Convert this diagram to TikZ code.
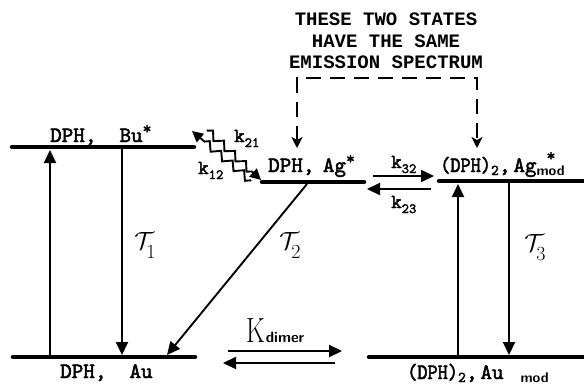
\documentclass[tikz,border=0pt]{standalone}
\usepackage{fontspec}
\newfontfamily\hdrfont{Liberation Mono}
\newfontfamily\lblfont{lmmono10-regular.otf}[FakeBold=2.2]
\usetikzlibrary{arrows.meta,decorations.pathmorphing}
\newcommand\ksub[1]{{\fontsize{20}{20}\selectfont k}\raisebox{-5pt}{\fontsize{14}{14}\selectfont #1}}
\newcommand\tausub[1]{{\fontsize{41}{41}\selectfont$\mathcal{T}$}\kern-8pt\raisebox{-9pt}{\fontsize{20}{20}\selectfont #1}}
\newcommand\modsub{\raisebox{-3pt}{\sffamily\bfseries\fontsize{14}{14}\selectfont mod}}
\newcommand\twosub{\raisebox{-3pt}{\fontsize{15}{15}\selectfont 2}}
\newcommand\lblstar{\raisebox{8pt}{\fontsize{17}{17}\selectfont*}}
\begin{document}
\begin{tikzpicture}[x=1pt,y=-1pt,
  level/.style={line width=4.5pt, line cap=round},
  trans/.style={line width=1.9pt, -{Triangle[length=13pt,width=12pt]}},
  rate/.style={line width=2.2pt, -{Triangle[length=13pt,width=12pt]}},
  wavy/.style={line width=1.9pt, decorate,
     decoration={zigzag, segment length=15pt, amplitude=3.75pt, pre length=1pt, post length=10pt},
     -{Triangle[length=11pt,width=11pt]}},
  dashline/.style={line width=2pt, dash pattern=on 15pt off 9pt,
     {Stealth[length=11pt,width=11pt,inset=3pt]}-{Stealth[length=11pt,width=11pt,inset=3pt]}},
  lbl/.style={font=\lblfont\fontsize{22}{22}\selectfont, inner sep=0pt, anchor=base west},
  hdr/.style={font=\hdrfont\bfseries\fontsize{19}{19}\selectfont, inner sep=0pt, anchor=base},
  klbl/.style={font=\lblfont, inner sep=0pt, anchor=base west},
  taulbl/.style={inner sep=0pt, anchor=center}
]
\useasboundingbox (0,0) rectangle (584,386);

% header
\node[hdr] (h1) at (386,25) {THESE TWO STATES};
\node[hdr] (h2) at (386,47) {HAVE THE SAME};
\node[hdr] (h3) at (386,68) {EMISSION SPECTRUM};

% level endpoints
\coordinate (BuL) at (12,147);  \coordinate (BuR) at (194,147);
\coordinate (AgL) at (262,182); \coordinate (AgR) at (364,182);
\coordinate (AmL) at (439,181); \coordinate (AmR) at (590,181);
\coordinate (AuL) at (13,357);  \coordinate (AuR) at (195,357);
\coordinate (AumL) at (369,357);\coordinate (AumR) at (590,357);

\draw[level] (BuL) -- (BuR);
\draw[level] (AgL) -- (AgR);
\draw[level] (AmL) -- (AmR);
\draw[level] (AuL) -- (AuR);
\draw[level] (AumL) -- (AumR);

% level labels
\node[lbl] (lBu) at (50,142) {DPH,\ \ Bu\lblstar};
\node[lbl] (lAg) at (268,172) {DPH,\ \kern-3pt Ag\lblstar};
\node[lbl] (lAm) at (440,172) {\scalebox{0.88}[1]{(DPH)}\twosub,\kern3pt Ag\rlap{\raisebox{11pt}{\fontsize{17}{17}\selectfont\kern10pt*}}\modsub};
\node[lbl] (lAu) at (60,378) {DPH,\ \ Au};
\node[lbl] (lAum) at (407,379) {\scalebox{0.88}[1]{(DPH)}\twosub,\kern3pt Au\kern17pt\modsub};

% transitions
\coordinate (u1s) at (50,355);  \coordinate (u1e) at (50,150);
\coordinate (d1s) at (122,149); \coordinate (d1e) at (122,355);
\coordinate (d2s) at (307,184); \coordinate (d2e) at (167,355);
\coordinate (u3s) at (458,355); \coordinate (u3e) at (458,184);
\coordinate (d3s) at (509,183); \coordinate (d3e) at (509,355);
\draw[trans] (u1s) -- (u1e);
\draw[trans] (d1s) -- (d1e);
\draw[trans] (d2s) -- (d2e);
\draw[trans] (u3s) -- (u3e);
\draw[trans] (d3s) -- (d3e);

\node[taulbl] (t1) at (145,245) {\tausub{1}};
\node[taulbl] (t2) at (290,245) {\tausub{2}};
\node[taulbl] (t3) at (535,248) {\tausub{3}};

% k32 / k23
\coordinate (k32s) at (373,176); \coordinate (k32e) at (434,176);
\coordinate (k23s) at (431,189); \coordinate (k23e) at (367,189);
\draw[rate] (k32s) -- (k32e);
\draw[rate] (k23s) -- (k23e);
\node[klbl] (lk32) at (391,168) {\ksub{32}};
\node[klbl] (lk23) at (391,208) {\ksub{23}};

% wavy k12 / k21
\coordinate (wa1) at (207,130); \coordinate (wa2) at (261,180);
\coordinate (wb1) at (251,181); \coordinate (wb2) at (192,131);
\draw[wavy] (wa1) -- (wa2);
\draw[wavy] (wb1) -- (wb2);
\node[klbl] (lk21) at (234,142) {\ksub{21}};
\node[klbl] (lk12) at (198,174) {\ksub{12}};

% K dimer
\coordinate (kd1s) at (228,351); \coordinate (kd1e) at (342,351);
\coordinate (kd2s) at (335,363); \coordinate (kd2e) at (223,363);
\draw[rate] (kd1s) -- (kd1e);
\draw[rate] (kd2s) -- (kd2e);
\node[inner sep=0pt, anchor=base west] (lKd) at (246,342)
  {{\fontsize{35}{35}\selectfont\scalebox{0.74}[1]{K}}\kern1pt{\sffamily\bfseries\fontsize{15}{15}\selectfont dimer}};

% dashed bracket
\coordinate (bl) at (297,148); \coordinate (br) at (477,148);
\coordinate (bcl) at (297,78); \coordinate (bcr) at (477,78);
\draw[dashline] (bl) -- (bcl) -- (bcr) -- (br);
\end{tikzpicture}
\end{document}
